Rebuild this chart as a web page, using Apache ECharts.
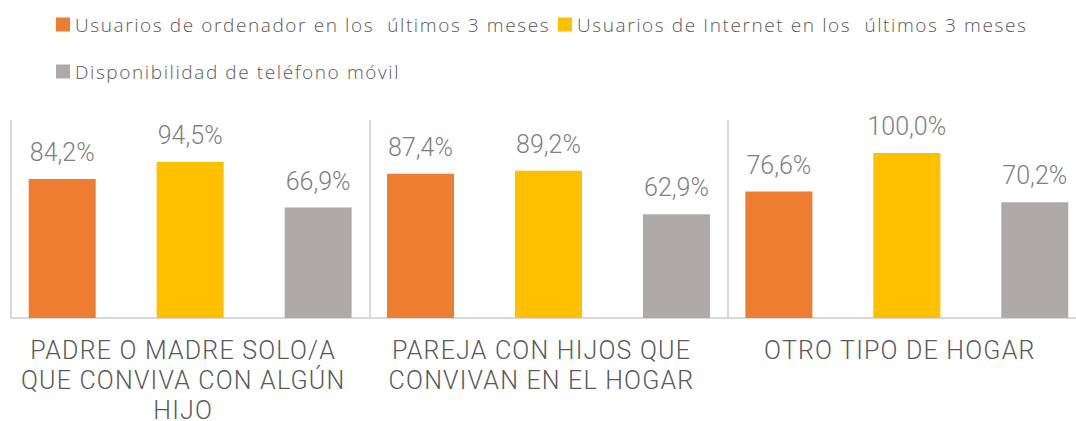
<!DOCTYPE html>
<html>
<head>
<meta charset="utf-8">
<script src="https://cdn.jsdelivr.net/npm/echarts@6/dist/echarts.min.js"></script>
<style>
  html, body { margin: 0; padding: 0; background: #fff; }
  #chart { width: 1076px; height: 421px; }
</style>
</head>
<body>
<div id="chart"></div>
<script>
// chart data
const categories = [
  "PADRE O MADRE SOLO/A QUE CONVIVA CON ALGÚN HIJO",
  "PAREJA CON HIJOS QUE CONVIVAN EN EL HOGAR",
  "OTRO TIPO DE HOGAR"
];
// line breaks as in the picture
const categoryLines = [
  ["PADRE O MADRE SOLO/A", "QUE CONVIVA CON ALGÚN", "HIJO"],
  ["PAREJA CON HIJOS QUE", "CONVIVAN EN EL HOGAR"],
  ["OTRO TIPO DE HOGAR"]
];
const seriesNames = [
  "Usuarios de ordenador en los  últimos 3 meses",
  "Usuarios de Internet en los  últimos 3 meses",
  "Disponibilidad de teléfono móvil"
];
const ordenador = [84.2, 87.4, 76.6];
const internet = [94.5, 89.2, 100.0];
const movil = [66.9, 62.9, 70.2];

const colors = ["#ED7D31", "#FFC000", "#AEAAAA"];
const thin = "Roboto, 'Liberation Sans', sans-serif";
const legendFont = "'Open Sans', 'Liberation Sans', sans-serif";

const fmt = v => v.toFixed(1).replace(".", ",") + "%";

function makeSeries(name, data, color) {
  return {
    name: name,
    type: "bar",
    data: data,
    barWidth: 67,
    barGap: "91%",
    itemStyle: { color: color },
    label: {
      show: true,
      position: "top",
      distance: 14,
      color: "#7F7F7F",
      fontFamily: thin,
      fontWeight: 300,
      fontSize: 25,
      formatter: p => fmt(p.value)
    }
  };
}

function legendAt(name, left, top) {
  return {
    data: [name],
    left: left,
    top: top,
    padding: 0,
    icon: "rect",
    itemWidth: 14,
    itemHeight: 14,
    selectedMode: false,
    textStyle: { color: "#595959", fontSize: 19, fontWeight: 300, fontFamily: legendFont }
  };
}

const chart = echarts.init(document.getElementById("chart"), null, { renderer: "svg" });

chart.setOption({
  animation: false,
  legend: [
    legendAt(seriesNames[0], 56, 15),
    legendAt(seriesNames[1], 558, 15),
    legendAt(seriesNames[2], 56, 62)
  ],
  // plot runs past the right edge of the picture, as in the reference
  grid: { left: 11, width: 1075, top: 120, bottom: 103, outerBoundsMode: "none" },
  xAxis: {
    type: "category",
    data: categories,
    axisLine: { lineStyle: { color: "#D9D9D9", width: 2 } },
    axisTick: { show: false },
    splitLine: { show: true, lineStyle: { color: "#D9D9D9", width: 2 } },
    axisLabel: {
      interval: 0,
      margin: 17,
      color: "#595959",
      fontFamily: thin,
      fontWeight: 300,
      fontSize: 25,
      lineHeight: 30,
      padding: [0, 14, 0, 0],
      formatter: (v, i) => categoryLines[i].join("\n")
    }
  },
  yAxis: { type: "value", min: 0, max: 120, show: false },
  series: [
    makeSeries(seriesNames[0], ordenador, colors[0]),
    makeSeries(seriesNames[1], internet, colors[1]),
    makeSeries(seriesNames[2], movil, colors[2])
  ]
});

// spaced-out capitals on the category labels, slight tracking on legend
const labelLines = new Set(categoryLines.flat());
const legendNames = new Set(seriesNames);
function track() {
  document.querySelectorAll("#chart text").forEach(t => {
    const s = t.textContent;
    if (labelLines.has(s)) t.setAttribute("letter-spacing", "1.2");
    else if (legendNames.has(s)) t.setAttribute("letter-spacing", "1.6");
  });
}
chart.on("finished", track);
track();
</script>
</body>
</html>
